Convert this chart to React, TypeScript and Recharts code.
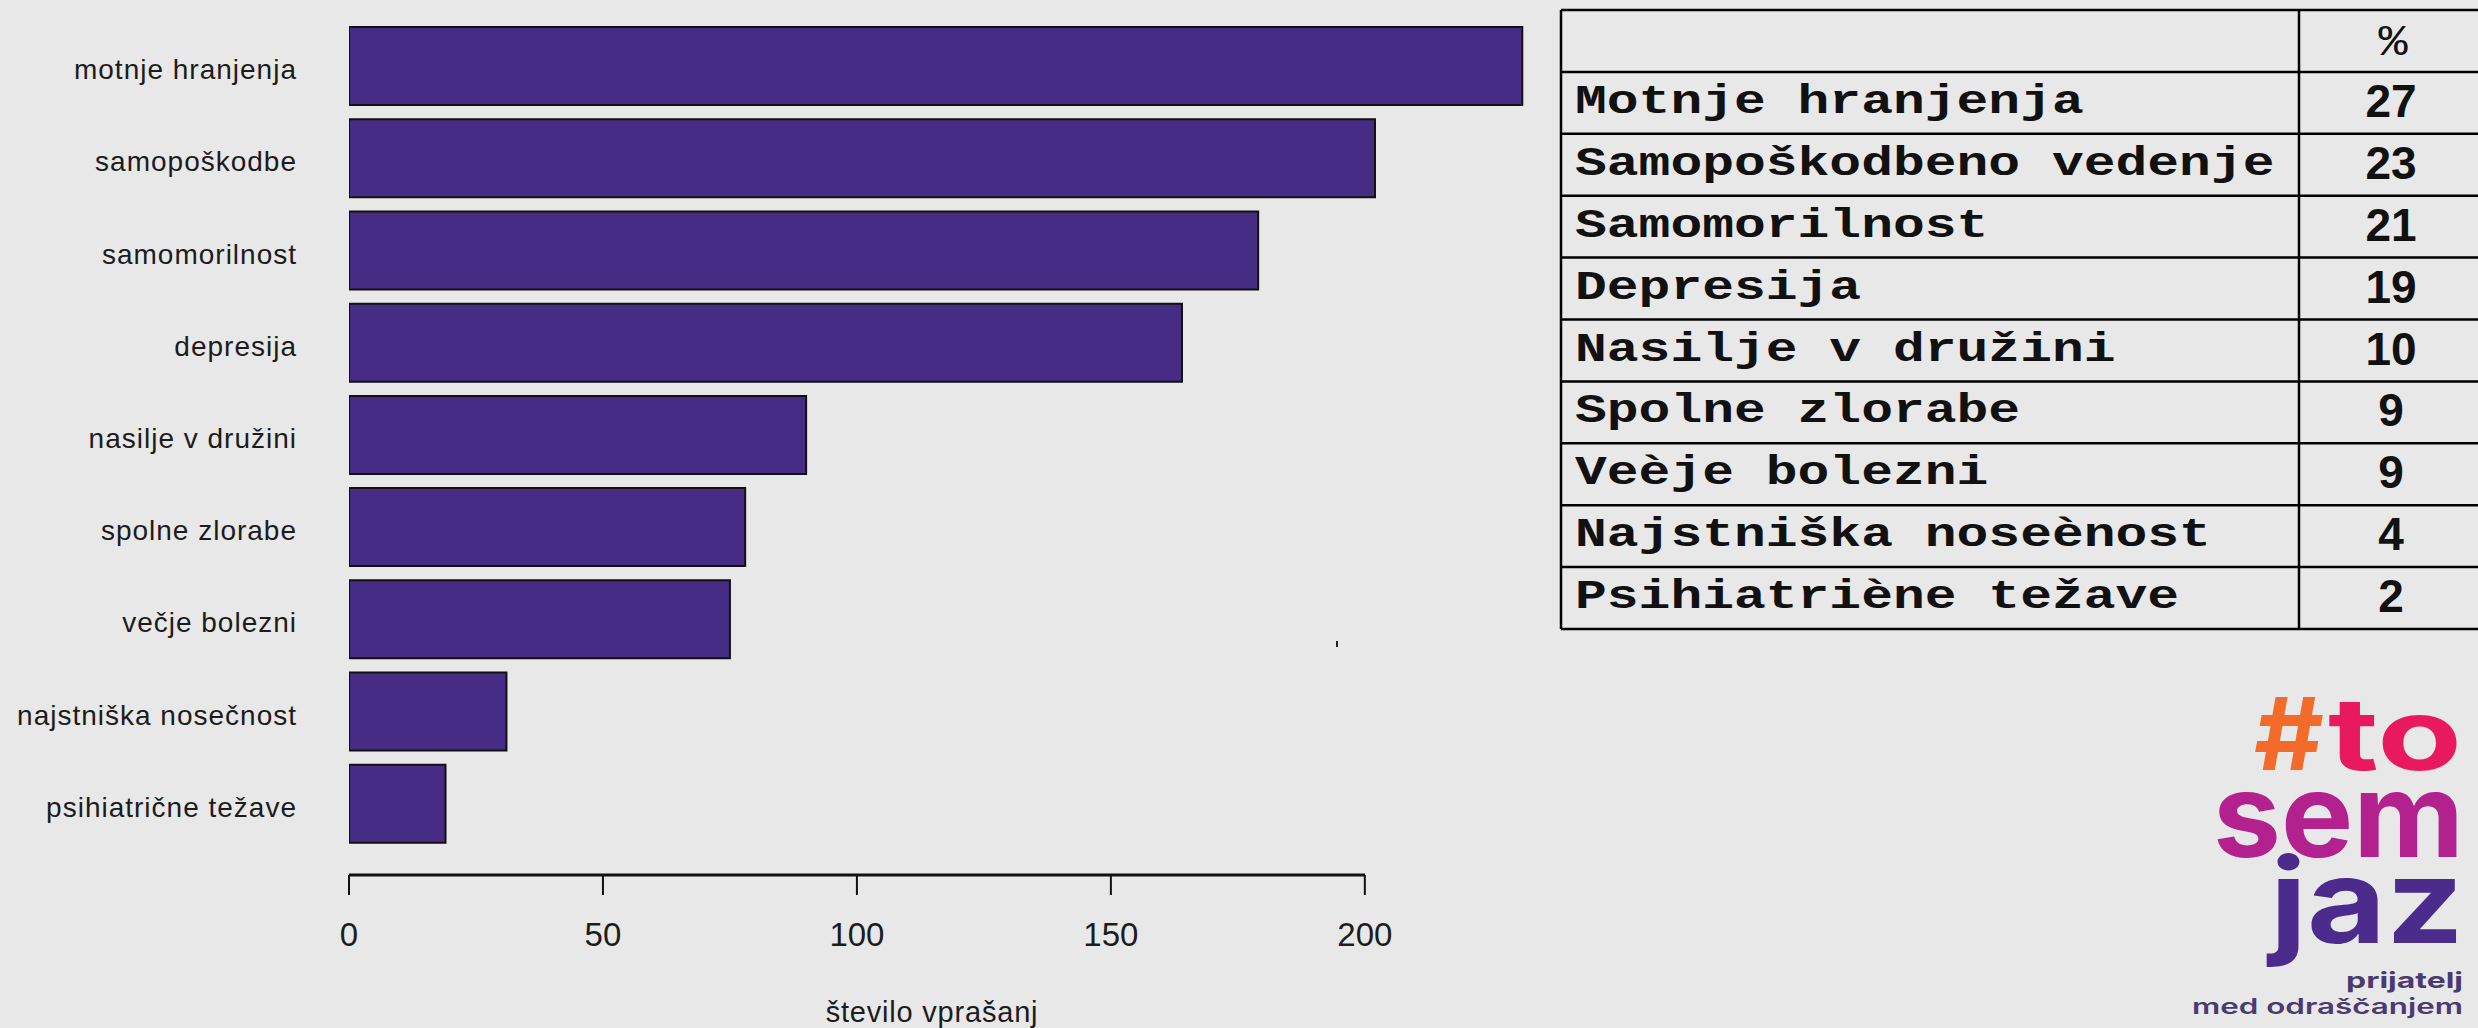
import React from 'react';
import { BarChart, Bar, XAxis, YAxis } from 'recharts';

const categories = [
  'motnje hranjenja',
  'samopoškodbe',
  'samomorilnost',
  'depresija',
  'nasilje v družini',
  'spolne zlorabe',
  'večje bolezni',
  'najstniška nosečnost',
  'psihiatrične težave',
];
const counts = [231, 202, 179, 164, 90, 78, 75, 31, 19];
const axisTicks = [0, 50, 100, 150, 200];
const axisTitle = 'število vprašanj';

const tableHeader = '%';
const tableLabels = [
  'Motnje hranjenja',
  'Samopoškodbeno vedenje',
  'Samomorilnost',
  'Depresija',
  'Nasilje v družini',
  'Spolne zlorabe',
  'Veèje bolezni',
  'Najstniška noseènost',
  'Psihiatriène težave',
];
const tablePercents = [27, 23, 21, 19, 10, 9, 9, 4, 2];

const data = categories.map((name, i) => ({ name, value: counts[i] }));

const BG = '#e8e8e8';
const BAR = '#462c84';
const SANS = '"Liberation Sans", Arial, sans-serif';
const MONO = '"Liberation Mono", "Courier New", monospace';
const LOGO = 'Inter, "Open Sans", sans-serif';

const YTick = (props: any) => {
  const { x, y, payload } = props;
  return (
    <text x={x} y={y} dy={13} textAnchor="end" fontFamily={SANS} fontSize={28} letterSpacing={1} fill="#1c1c1c">
      {payload.value}
    </text>
  );
};

const XTick = (props: any) => {
  const { x, y, payload } = props;
  return (
    <text x={x} y={y} dy={24} textAnchor="middle" fontFamily={SANS} fontSize={33} fill="#1c1c1c">
      {payload.value}
    </text>
  );
};

const ROW0 = 10;
const ROWH = 61.9;
const TLEFT = 1561;
const TDIV = 2299;

export default function App() {
  const rowYs = Array.from({ length: tableLabels.length + 2 }, (_, i) => ROW0 + ROWH * i);
  return (
    <div style={{ position: 'fixed', left: 0, top: 0, width: 2478, height: 1028, background: BG, overflow: 'hidden' }}>
      <div style={{ position: 'absolute', left: 0, top: 0 }}>
        <BarChart
          width={1580}
          height={1028}
          data={data}
          layout="vertical"
          margin={{ top: 20, right: 12, left: 0, bottom: 0 }}
        >
          <XAxis
            type="number"
            domain={[0, 240]}
            ticks={axisTicks}
            allowDataOverflow
            height={153}
            tickSize={20}
            tickMargin={27}
            axisLine={{ stroke: '#111', strokeWidth: 3, strokeDasharray: '1016 3000' }}
            tickLine={{ stroke: '#111', strokeWidth: 2 }}
            tick={XTick}
          />
          <YAxis
            type="category"
            dataKey="name"
            width={349}
            axisLine={false}
            tickLine={false}
            tickSize={0}
            tickMargin={52}
            padding={{ top: 0, bottom: 25 }}
            interval={0}
            tick={YTick}
          />
          <Bar dataKey="value" fill={BAR} stroke="#111" strokeWidth={2} barSize={78} isAnimationActive={false} />
        </BarChart>
      </div>
      <svg
        width={2478}
        height={1028}
        style={{ position: 'absolute', left: 0, top: 0, pointerEvents: 'none' }}
      >
        <text x={932} y={1022} textAnchor="middle" fontFamily={SANS} fontSize={29} letterSpacing={0.8} fill="#1c1c1c">
          {axisTitle}
        </text>
        <rect x={1336} y={641} width={2} height={6} fill="#222" />

        {/* table */}
        <line x1={TLEFT} y1={ROW0} x2={TLEFT} y2={rowYs[rowYs.length - 1]} stroke="#000" strokeWidth={2.5} />
        <line x1={TDIV} y1={ROW0} x2={TDIV} y2={rowYs[rowYs.length - 1]} stroke="#000" strokeWidth={2.5} />
        {rowYs.map((y, i) => (
          <line key={'h' + i} x1={TLEFT} y1={y} x2={2480} y2={y} stroke="#000" strokeWidth={2.5} />
        ))}
        <text
          transform={`translate(2393 ${ROW0 + 45}) scale(1.1 1)`}
          textAnchor="middle"
          fontFamily={MONO}
          fontSize={44}
          fill="#111"
        >
          {tableHeader}
        </text>
        {tableLabels.map((lab, i) => (
          <text
            key={'l' + i}
            transform={`translate(1575 ${rowYs[i + 1] + 41}) scale(1.325 1)`}
            fontFamily={MONO}
            fontWeight="bold"
            fontSize={40}
            fill="#111"
          >
            {lab}
          </text>
        ))}
        {tablePercents.map((p, i) => (
          <text
            key={'p' + i}
            x={2391}
            y={rowYs[i + 1] + 45}
            textAnchor="middle"
            fontFamily={SANS}
            fontWeight="bold"
            fontSize={46}
            fill="#111"
          >
            {p}
          </text>
        ))}

        {/* logo as one text element */}
        <text fontFamily={LOGO} fontWeight={700}>
          <tspan x={2254} y={770} fontSize={100} fill="#f26b2a" textLength={70} lengthAdjust="spacingAndGlyphs">#</tspan>
          <tspan x={2328} y={770} fontSize={100} fill="#e8195f" textLength={134} lengthAdjust="spacingAndGlyphs">to</tspan>
          <tspan x={2213} y={857} fontSize={117} fill="#b2218e" textLength={251} lengthAdjust="spacingAndGlyphs">sem</tspan>
          <tspan x={2270} y={943} fontSize={117} fill="#4b2b8c" textLength={194} lengthAdjust="spacingAndGlyphs">jaz</tspan>
          <tspan x={2346} y={988} fontSize={22} fill="#4a3a70" textLength={117} lengthAdjust="spacingAndGlyphs">prijatelj</tspan>
          <tspan x={2192} y={1014} fontSize={21} fontWeight={600} fill="#4a3a70" textLength={271} lengthAdjust="spacingAndGlyphs">med odraščanjem</tspan>
        </text>
      </svg>
    </div>
  );
}
